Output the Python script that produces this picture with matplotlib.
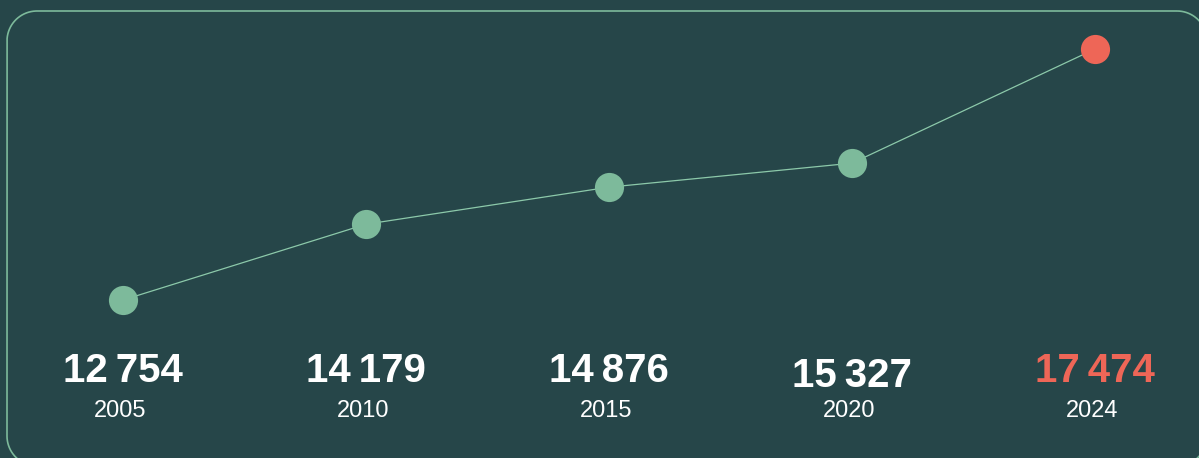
import numpy as np
import matplotlib.pyplot as plt
import matplotlib.transforms as mtransforms
from matplotlib.patches import PathPatch
from matplotlib.path import Path

# ===== DONNÉES =====
annees = ['2005', '2010', '2015', '2020', '2024']
valeurs = [12754, 14179, 14876, 15327, 17474]
libelles = ['12\u2009754', '14\u2009179', '14\u2009876', '15\u2009327', '17\u2009474']

# ===== COULEURS =====
fond = '#264649'
vert = '#7dba9b'
rouge = '#ee6657'
blanc = '#ffffff'

plt.rcParams['font.family'] = ['Liberation Sans', 'DejaVu Sans']

W, H = 1199, 458
fig = plt.figure(figsize=(W / 100, H / 100), dpi=100)
fig.patch.set_facecolor(fond)
ax = fig.add_axes([0, 0, 1, 1])
ax.set_facecolor(fond)
ax.axis('off')

# ===== CADRE ARRONDI (en pixels, origine en haut à gauche) =====
def cadre_arrondi(x0, y0, x1, y1, r, n=40):
    pts = []
    coins = [(x1 - r, y0 + r, -90, 0), (x1 - r, y1 - r, 0, 90),
             (x0 + r, y1 - r, 90, 180), (x0 + r, y0 + r, 180, 270)]
    for cx, cy, a0, a1 in coins:
        t = np.radians(np.linspace(a0, a1, n))
        pts += list(zip(cx + r * np.cos(t), cy + r * np.sin(t)))
    pts.append(pts[0])
    return Path(pts)

trans_px = mtransforms.Affine2D().scale(1, -1).translate(0, H)
chemin = cadre_arrondi(7, 11, 1207, 466, 30)
fig.patches.append(PathPatch(chemin, transform=trans_px, facecolor='none',
                             edgecolor=vert, linewidth=1.2))

# ===== COURBE =====
x = list(range(len(valeurs)))
ax.plot(x, valeurs, color='#8cc9aa', linewidth=0.9, zorder=1)
couleurs = [vert] * (len(valeurs) - 1) + [rouge]
for xi, v, c in zip(x, valeurs, couleurs):
    ax.plot(xi, v, 'o', markersize=21, color=c, markeredgewidth=0, zorder=2)

# échelle en pixels
ax.set_xlim(-123 / 243, (W - 123) / 243)
px = (17474 - 12754) / (300 - 49)
ax.set_ylim(12754 - (H - 300) * px, 17474 + 49 * px)

# ===== ÉTIQUETTES =====
trans = mtransforms.blended_transform_factory(ax.transData, ax.transAxes)
for i, (lab, an) in enumerate(zip(libelles, annees)):
    c = rouge if i == len(libelles) - 1 else blanc
    yb = 1 - (387 if i == 3 else 382) / H
    ax.text(i, yb, lab, transform=trans, ha='center', va='baseline',
            fontsize=29, fontweight='bold', color=c)
    ax.text(i - 0.01, 1 - 417 / H, an, transform=trans, ha='center',
            va='baseline', fontsize=17, color=blanc)

plt.savefig('out.png', dpi=100, facecolor=fond)
